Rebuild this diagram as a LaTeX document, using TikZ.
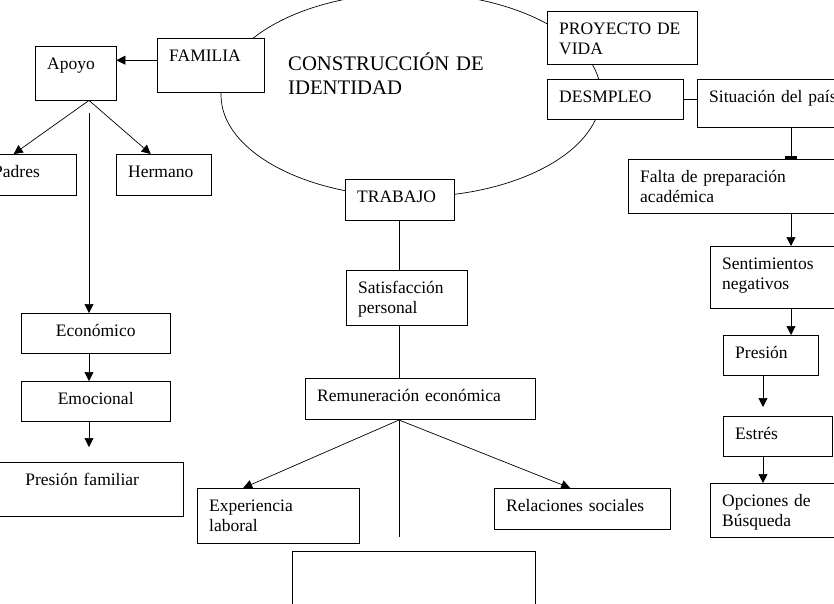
\documentclass[tikz,border=0pt]{standalone}
\usepackage{fontspec}
\setmainfont{Liberation Serif}
\usetikzlibrary{arrows.meta}

\tikzset{
  cajabase/.style={draw, fill=white, anchor=north west, inner xsep=12pt,
    inner ysep=0pt, align=left, text height=23pt,
    font=\fontsize{17.5}{20.5}\selectfont},
  caja/.code 2 args={%
    \pgfmathsetlengthmacro\anchocaja{#1-24}%
    \pgfmathsetlengthmacro\bajocaja{#2-23}%
    \edef\fijacaja{\noexpand\tikzset{cajabase, text width=\anchocaja,
      text depth=\bajocaja}}%
    \fijacaja},
  titulo/.style={anchor=base west, inner sep=0pt, text width=230pt,
    align=left, font=\fontsize{20.7}{24}\selectfont},
  linea/.style={line width=0.7pt},
  flecha/.style={linea, ->},
  >={Triangle[length=9pt,width=9pt]}
}

\begin{document}
\begin{tikzpicture}[x=1pt, y=-1pt]
  \useasboundingbox (0,0) rectangle (834,603);
  \clip (0,0) rectangle (834,603);
  \draw[linea] (411,95) ellipse [x radius=190pt, y radius=102pt];
  \node[titulo] (titulo) at (288,70) {CONSTRUCCIÓN DE\\IDENTIDAD};

  % familia
  \node[caja={107}{54}] (familia) at (157,38) {FAMILIA};
  \node[caja={81}{54}] (apoyo) at (35,46) {Apoyo};
  \node[caja={95}{41}] (padres) at (-19,154) {Padres};
  \node[caja={95}{41}] (hermano) at (116,154) {Hermano};
  \node[caja={149}{40}, align=center] (economico) at (21,313) {Económico};
  \node[caja={149}{40}, align=center] (emocional) at (21,381) {Emocional};
  \node[caja={202}{54}, align=center] (presfam) at (-19,462) {Presión familiar};

  % trabajo
  \node[caja={109}{41}] (trabajo) at (345,179) {TRABAJO};
  \node[caja={121}{55}] (satisf) at (346,270) {Satisfacción\\personal};
  \node[caja={230}{41}] (remun) at (305,378) {Remuneración económica};
  \node[caja={162}{55}] (experiencia) at (197,488) {Experiencia\\laboral};
  \node[caja={176}{41}] (relaciones) at (494,488) {Relaciones sociales};
  \node[caja={243}{70}] (vacio) at (292,551) {};

  % desempleo
  \node[caja={150}{53}] (proyecto) at (547,11) {PROYECTO DE\\VIDA};
  \node[caja={136}{40}] (desempleo) at (547,79) {DESMPLEO};
  \node[caja={160}{48}] (situacion) at (697,79) {Situación del país};
  \node[caja={230}{54}] (falta) at (628,159) {Falta de preparación\\académica};
  \node[caja={140}{62}] (sentim) at (710,246) {Sentimientos\\negativos};
  \node[caja={95}{40}] (presion) at (723,335) {Presión};
  \node[caja={109}{40}] (estres) at (723,416) {Estrés};
  \node[caja={140}{54}] (opciones) at (710,483) {Opciones de\\Búsqueda};

  \coordinate (eje) at (89,113);
  \coordinate (rama) at (399,420);
  \coordinate (corte) at (399,537);
  \coordinate (ejeder) at (791,0);
  \coordinate (ejeder2) at (763,0);

  \draw[flecha] ([yshift=5pt]familia.west) -- ([yshift=5pt]familia.west -| apoyo.east);
  \draw[flecha] (eje |- apoyo.south) -- ([xshift=-15pt]padres.north);
  \draw[flecha] (eje |- apoyo.south) -- ([xshift=-13pt]hermano.north);
  \draw[flecha] (eje) -- (eje |- economico.north);
  \draw[flecha] (eje |- economico.south) -- (eje |- emocional.north);
  \draw[flecha, shorten >=15pt] (eje |- emocional.south) -- (eje |- presfam.north);

  \draw[linea] (trabajo.south) -- (trabajo.south |- satisf.north);
  \draw[linea] (trabajo.south |- satisf.south) -- (trabajo.south |- remun.north);
  \draw[flecha] (rama) -- ([xshift=-35pt]experiencia.north);
  \draw[flecha] (rama) -- ([xshift=-12pt]relaciones.north);
  \draw[linea] (rama) -- (corte);

  \draw[linea] (desempleo.east) -- (desempleo.east -| situacion.west);
  \draw[linea, -{Rectangle[length=3pt,width=12pt]}] (situacion.south -| ejeder) -- (falta.north -| ejeder);
  \draw[flecha] (falta.south -| ejeder) -- (sentim.north -| ejeder);
  \draw[flecha] (sentim.south -| ejeder) -- (presion.north -| ejeder);
  \draw[flecha, shorten >=9pt] (presion.south -| ejeder2) -- (estres.north -| ejeder2);
  \draw[flecha] (estres.south -| ejeder2) -- (opciones.north -| ejeder2);
\end{tikzpicture}
\end{document}
